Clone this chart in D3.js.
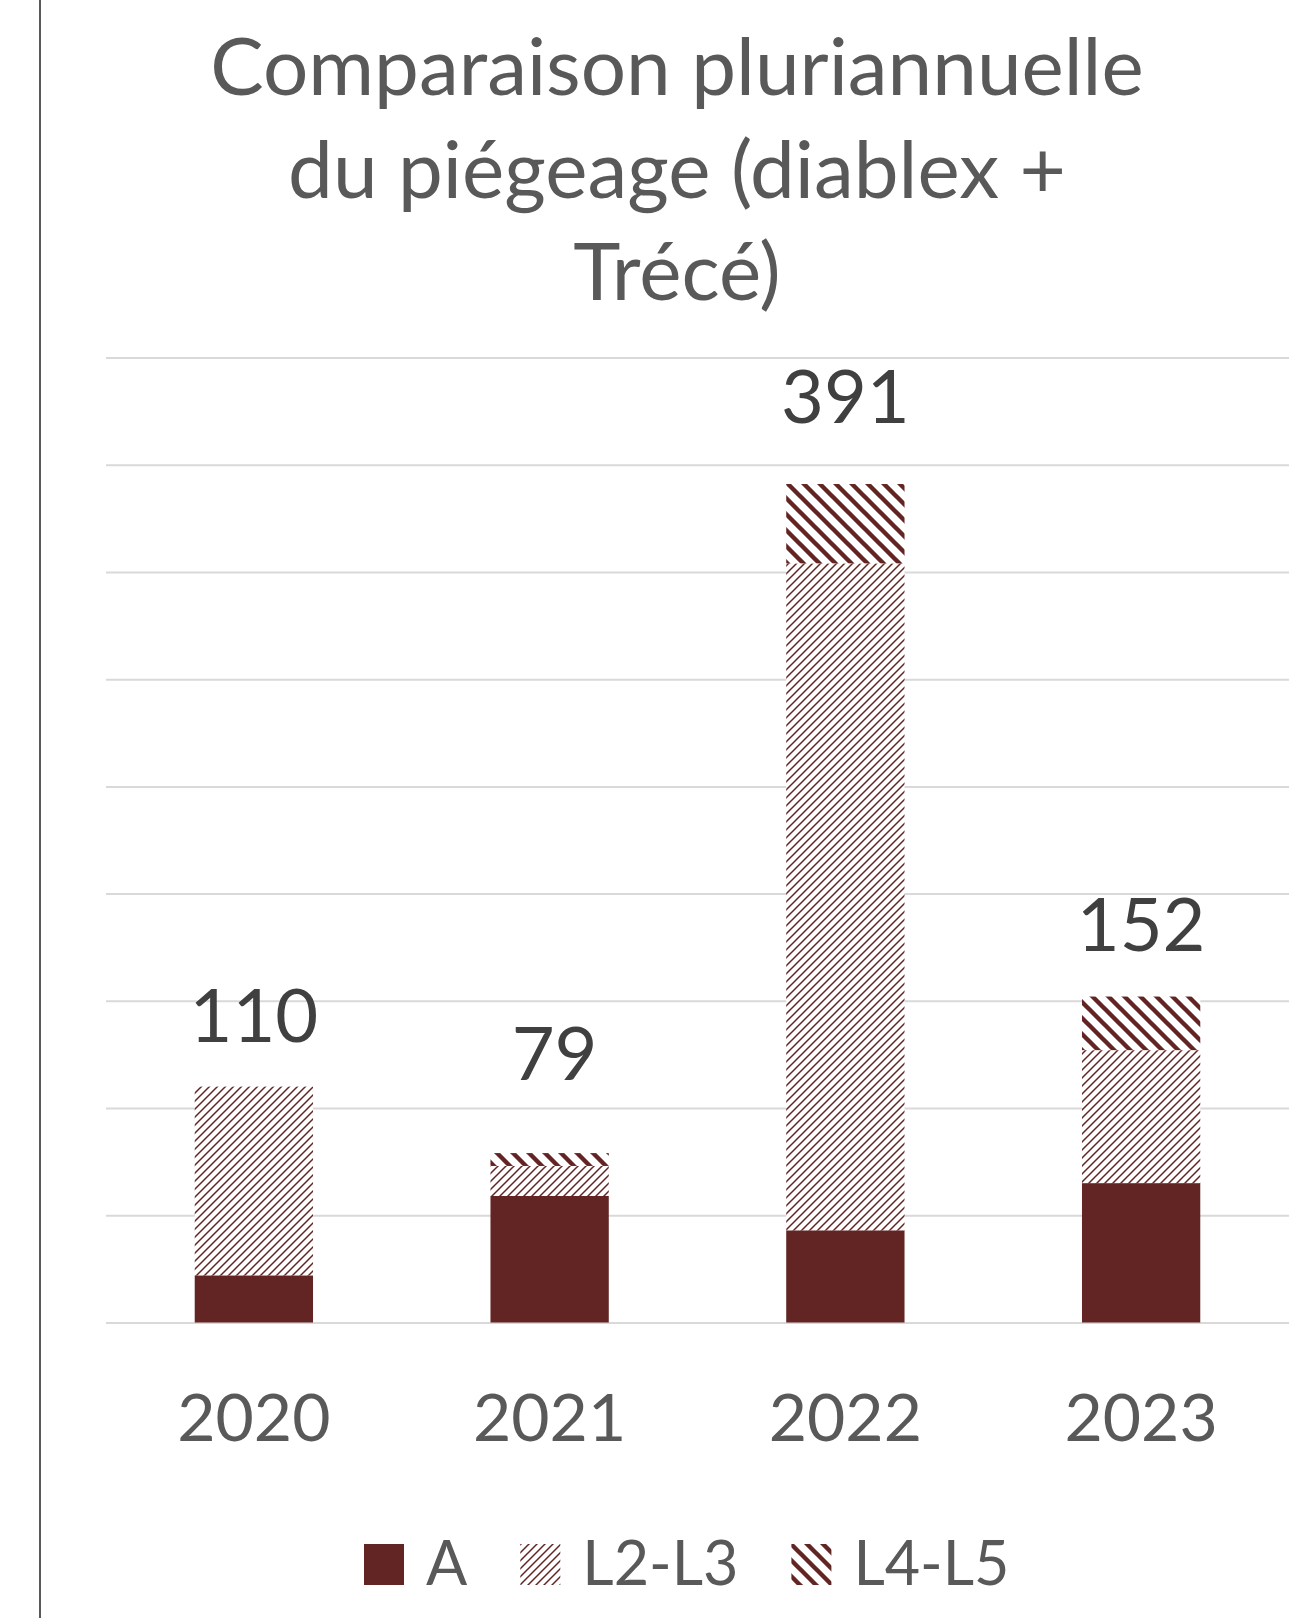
<!DOCTYPE html>
<html>
<head>
<meta charset="utf-8">
<script src="https://cdn.jsdelivr.net/npm/d3@7"></script>
<style>
  body { margin: 0; background: #fff; }
  text { font-family: Lato, "Open Sans", sans-serif; }
</style>
</head>
<body>
<div id="chart-area"></div>
<script>
// data
var years = ["2020", "2021", "2022", "2023"];
var seriesNames = ["A", "L2-L3", "L4-L5"];
var valA = [22, 59, 43, 65];
var valL23 = [88, 14, 311, 62];
var valL45 = [0, 6, 37, 25];
var totals = [110, 79, 391, 152];
var yTicks = [0, 50, 100, 150, 200, 250, 300, 350, 400, 450];
var titleLines = ["Comparaison pluriannuelle", "du piégeage (diablex +", "Trécé)"];

// layout
var W = 1306, H = 1618;
var plot = { left: 106, right: 1289, top: 357.5, bottom: 1322.5 };
var labelGap = [45, 73, 61, 46]; // data labels were dragged by hand in the original
var labelShift = [0, 5, 0, 0];
var red = "#632523";

var svg = d3.select("#chart-area")
	.append("svg")
	.attr("width", W)
	.attr("height", H)

var defs = svg.append("defs")

// light upward diagonal
var p1 = defs.append("pattern")
	.attr("id", "pL23")
	.attr("patternUnits", "userSpaceOnUse")
	.attr("width", 8).attr("height", 8)
p1.append("rect").attr("width", 8).attr("height", 8).attr("fill", "#fff")
p1.append("path")
	.attr("d", "M0,8 L8,0 M-2,2 L2,-2 M6,10 L10,6")
	.attr("stroke", red).attr("stroke-width", 1.5)

// wide downward diagonal
var p2 = defs.append("pattern")
	.attr("id", "pL45")
	.attr("patternUnits", "userSpaceOnUse")
	.attr("width", 16).attr("height", 16)
p2.append("rect").attr("width", 16).attr("height", 16).attr("fill", "#fff")
p2.append("path")
	.attr("d", "M0,0 L16,16 M-4,12 L4,20 M12,-4 L20,4")
	.attr("stroke", red).attr("stroke-width", 4.4)

var fills = [red, "url(#pL23)", "url(#pL45)"];

// chart area border on the left
svg.append("line")
	.attr("x1", 40).attr("x2", 40)
	.attr("y1", 0).attr("y2", H)
	.attr("stroke", "#595959")
	.attr("stroke-width", 2)

// title
svg.append("g")
	.selectAll("text")
	.data(titleLines)
	.enter()
	.append("text")
	.attr("x", 677)
	.attr("y", function (d, i) { return 95 + i * 102.5 })
	.attr("text-anchor", "middle")
	.attr("fill", "#595959")
	.attr("font-size", 80)
	.text(function (d) { return d })

var x = d3.scaleBand()
	.domain(years)
	.range([plot.left, plot.right])
	.paddingInner(0.6)
	.paddingOuter(0.3);

var y = d3.scaleLinear()
	.domain([0, 450])
	.range([plot.bottom, plot.top])

// gridlines
var grid = d3.axisLeft(y)
	.tickValues(yTicks)
	.tickSize(-(plot.right - plot.left))
	.tickFormat("")
svg.append("g")
	.attr("class", "grid")
	.attr("transform", "translate(" + plot.left + ",0)")
	.call(grid)
	.call(function (g) { g.select(".domain").remove() })
	.selectAll("line")
	.attr("stroke", "#d9d9d9")
	.attr("stroke-width", 2)

// stack
var rows = years.map(function (yr, i) {
	return { year: yr, "A": valA[i], "L2-L3": valL23[i], "L4-L5": valL45[i] }
})
var stacked = d3.stack().keys(seriesNames)(rows)

svg.append("g")
	.selectAll("g")
	.data(stacked)
	.enter()
	.append("g")
	.attr("fill", function (d, i) { return fills[i] })
	.selectAll("rect")
	.data(function (d) { return d })
	.enter()
	.append("rect")
	.attr("x", function (d) { return x(d.data.year) })
	.attr("y", function (d) { return y(d[1]) })
	.attr("width", x.bandwidth())
	.attr("height", function (d) { return y(d[0]) - y(d[1]) })

// x axis labels
var bottomAxis = d3.axisBottom(x).tickSize(0)
svg.append("g")
	.attr("class", "x axis")
	.attr("transform", "translate(0," + plot.bottom + ")")
	.call(bottomAxis)
	.call(function (g) { g.select(".domain").remove() })
	.selectAll("text")
	.attr("y", 118)
	.attr("dy", 0)
	.attr("fill", "#595959")
	.attr("font-size", 66)
	.attr("font-family", "Lato, sans-serif")

// totals
svg.append("g")
	.selectAll("text")
	.data(totals)
	.enter()
	.append("text")
	.attr("x", function (d, i) { return x(years[i]) + x.bandwidth() / 2 + labelShift[i] })
	.attr("y", function (d, i) { return y(d) - labelGap[i] })
	.attr("text-anchor", "middle")
	.attr("fill", "#404040")
	.attr("font-size", 74)
	.text(function (d) { return d })

// legend
var legend = svg.append("g")
	.attr("transform", "translate(0,1585)")
var lx = 364
seriesNames.forEach(function (name, i) {
	legend.append("rect")
		.attr("x", lx).attr("y", -41)
		.attr("width", 40).attr("height", 41)
		.attr("fill", fills[i])
	var t = legend.append("text")
		.attr("x", lx + 62)
		.attr("y", 0)
		.attr("fill", "#595959")
		.attr("font-size", 61)
		.text(name)
	lx = lx + 62 + t.node().getComputedTextLength() + 53
})
</script>
</body>
</html>
